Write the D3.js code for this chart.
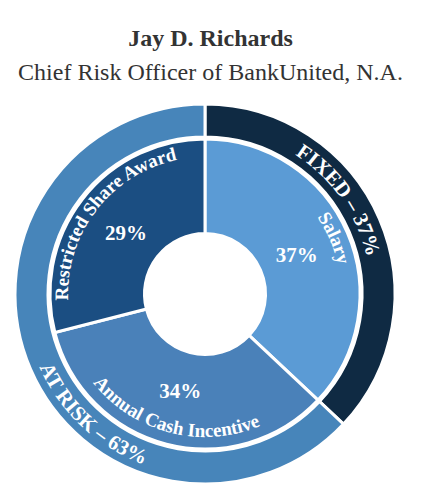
<!DOCTYPE html>
<html>
<head>
<meta charset="utf-8">
<script src="https://cdn.jsdelivr.net/npm/d3@7"></script>
<style>
  html, body { margin: 0; padding: 0; background: #fff; }
  svg { display: block; }
  text { font-family: "Liberation Serif", "Times New Roman", serif; }
</style>
</head>
<body>
<svg id="chart" width="421" height="492"></svg>
<script>
// ---- data ----
const title = "Jay D. Richards";
const subtitle = "Chief Risk Officer of BankUnited, N.A.";
const innerCategories = ["Salary", "Annual Cash Incentive", "Restricted Share Award"];
const innerValues = [37, 34, 29];
const innerColors = ["#5b9bd5", "#4a81b9", "#1b4e82"];
const outerCategories = ["FIXED", "AT RISK"];
const outerValues = [37, 63];
const outerColors = ["#0f2a43", "#4785ba"];

// ---- layout ----
const W = 421, H = 492;
const cx = 205, cy = 294;
const svg = d3.select("#chart");

svg.append("text").attr("x", 210.5).attr("y", 46).attr("text-anchor", "middle")
  .attr("font-size", 24).attr("font-weight", "bold").attr("fill", "#333").text(title);
svg.append("text").attr("x", 210.5).attr("y", 80).attr("text-anchor", "middle")
  .attr("font-size", 24).attr("fill", "#333").text(subtitle);

const g = svg.append("g").attr("transform", `translate(${cx},${cy})`);
const pie = d3.pie().sort(null).value(d => d.value);

const innerData = pie(innerCategories.map((c, i) => ({ name: c, value: innerValues[i], color: innerColors[i] })));
const outerData = pie(outerCategories.map((c, i) => ({ name: c, value: outerValues[i], color: outerColors[i] })));

const innerArc = d3.arc().innerRadius(60.5).outerRadius(155);
const outerArc = d3.arc().innerRadius(157).outerRadius(190);

g.selectAll("path.outer").data(outerData).join("path").attr("class", "outer")
  .attr("d", outerArc).attr("fill", d => d.data.color)
  .attr("stroke", "#fff").attr("stroke-width", 3);
g.selectAll("path.inner").data(innerData).join("path").attr("class", "inner")
  .attr("d", innerArc).attr("fill", d => d.data.color)
  .attr("stroke", "#fff").attr("stroke-width", 3);

// helpers for curved text
const deg = Math.PI / 180;
function pt(r, a) { return [r * Math.sin(a), -r * Math.cos(a)]; }
function arcPath(r, a0, a1, clockwise) {
  const [x0, y0] = pt(r, a0), [x1, y1] = pt(r, a1);
  const large = Math.abs(a1 - a0) > Math.PI ? 1 : 0;
  return `M${x0},${y0} A${r},${r} 0 ${large} ${clockwise ? 1 : 0} ${x1},${y1}`;
}
const defs = svg.append("defs");
let pid = 0;
function curvedLabel(text, r, center, clockwise, size) {
  const id = "p" + (pid++);
  const half = 80 * deg;
  const d = clockwise ? arcPath(r, center - half, center + half, true)
                      : arcPath(r, center + half, center - half, false);
  defs.append("path").attr("id", id).attr("d", d);
  g.append("text").attr("font-size", size).attr("font-weight", "bold").attr("fill", "#fff")
    .append("textPath").attr("href", "#" + id).attr("startOffset", "50%")
    .attr("text-anchor", "middle").text(text);
}
const mid = d => (d.startAngle + d.endAngle) / 2;

// inner slice names
curvedLabel(innerCategories[0], 136, mid(innerData[0]), true, 19);
curvedLabel(innerCategories[1], 143, mid(innerData[1]), false, 19);
curvedLabel(innerCategories[2], 137, mid(innerData[2]), true, 19);

// percentages
const pctArc = d3.arc().innerRadius(100).outerRadius(100);
g.selectAll("text.pct").data(innerData).join("text").attr("class", "pct")
  .attr("transform", d => `translate(${pctArc.centroid(d)})`)
  .attr("dy", "0.35em").attr("text-anchor", "middle")
  .attr("font-size", 21).attr("font-weight", "bold").attr("fill", "#fff")
  .text(d => d.data.value + "%");

// outer labels
curvedLabel(outerCategories[0] + " \u2013 " + outerValues[0] + "%", 166, 55 * deg, true, 21);
curvedLabel(outerCategories[1] + " \u2013 " + outerValues[1] + "%", 181, 223 * deg, false, 21);
</script>
</body>
</html>
